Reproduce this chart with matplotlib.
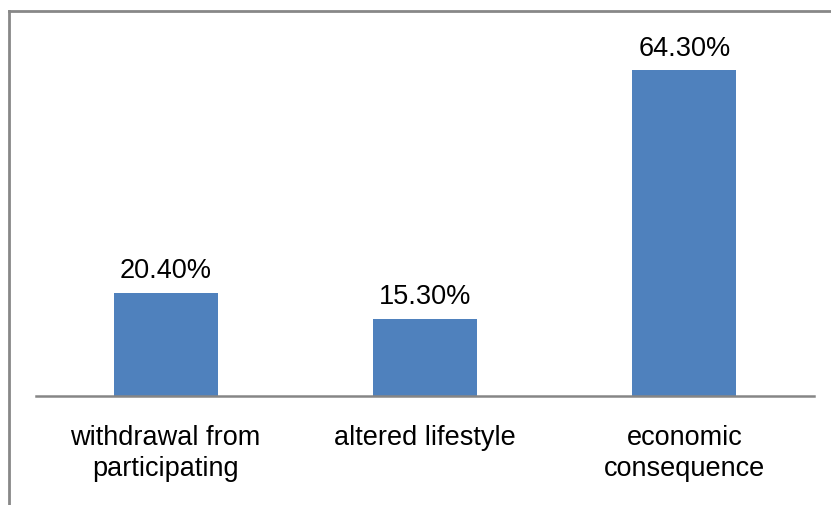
import matplotlib.pyplot as plt
from matplotlib.lines import Line2D

plt.rcParams['font.family'] = ['Liberation Sans', 'DejaVu Sans']

categories = ['withdrawal from\nparticipating', 'altered lifestyle', 'economic\nconsequence']
values = [20.4, 15.3, 64.3]
value_labels = ['20.40%', '15.30%', '64.30%']

W, H = 831, 506
fig = plt.figure(figsize=(W / 100, H / 100), dpi=100)
ax = fig.add_axes([36 / W, 109 / H, 778 / W, 357 / H])

x = range(len(categories))
bars = ax.bar(x, values, width=0.4, color='#4F81BD')
ax.set_xlim(-0.5, 2.5)
ax.set_ylim(0, 70.5)

for b, lab in zip(bars, value_labels):
    ax.annotate(lab, (b.get_x() + b.get_width() / 2, b.get_height()),
                xytext=(0, 7), textcoords='offset points',
                ha='center', va='bottom', fontsize=19.5, color='black')

ax.set_xticks(list(x))
ax.set_xticklabels(categories, fontsize=19.5, linespacing=1.25)
ax.tick_params(axis='x', length=0, pad=20)
ax.set_yticks([])
for s in ['top', 'right', 'left']:
    ax.spines[s].set_visible(False)
ax.spines['bottom'].set_color('#868686')
ax.spines['bottom'].set_linewidth(1.8)

# outer chart frame, only top and left edges show
fig.add_artist(Line2D([9 / W, 1], [1 - 12 / H, 1 - 12 / H], transform=fig.transFigure,
                      color='#888888', lw=2))
fig.add_artist(Line2D([9 / W, 9 / W], [0, 1 - 12 / H], transform=fig.transFigure,
                      color='#888888', lw=2))

fig.savefig('out.png', dpi=100)
